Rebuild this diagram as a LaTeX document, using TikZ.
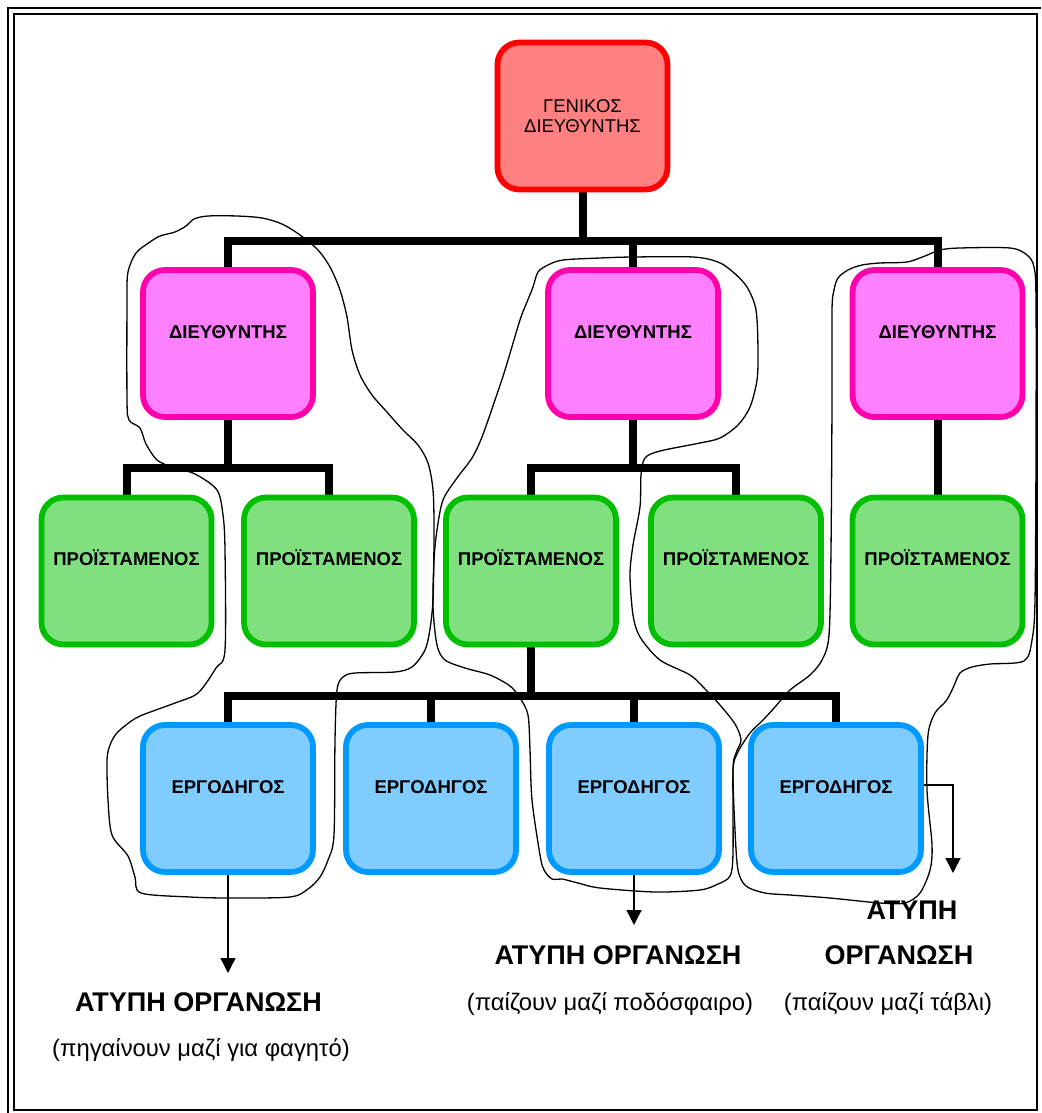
\documentclass[tikz,border=0pt]{standalone}
\usepackage{fontspec}
\setmainfont{Liberation Sans}
\usetikzlibrary{arrows.meta,backgrounds}

\definecolor{chiefline}{RGB}{255,0,0}
\definecolor{chieffill}{RGB}{255,128,128}
\definecolor{dirline}{RGB}{255,0,170}
\definecolor{dirfill}{RGB}{255,128,255}
\definecolor{supline}{RGB}{0,190,0}
\definecolor{supfill}{RGB}{128,224,128}
\definecolor{foreline}{RGB}{0,153,255}
\definecolor{forefill}{RGB}{128,204,255}

\begin{document}
\begin{tikzpicture}[x=1pt,y=-1pt,
  box/.style={draw, line width=5.8pt, rounded corners=22pt,
    minimum width=170pt, minimum height=147pt, inner sep=0pt, align=center,
    font=\fontsize{18.5}{20}\selectfont},
  lowerbox/.style={box, font=\fontsize{18.5}{20}\selectfont\bfseries,
    text height=13.5pt, text depth=24.5pt},
  chief/.style={box, draw=chiefline, fill=chieffill},
  director/.style={lowerbox, draw=dirline, fill=dirfill},
  supervisor/.style={lowerbox, draw=supline, fill=supfill},
  foreman/.style={lowerbox, draw=foreline, fill=forefill},
  tree/.style={line width=8pt, line join=miter},
  link/.style={line width=1.4pt, -{Triangle[width=15pt,length=15pt]}},
  group/.style={line width=1.3pt, line join=round},
  title/.style={font=\fontsize{27}{29}\selectfont\bfseries, inner sep=0pt},
  note/.style={font=\fontsize{23.8}{26}\selectfont, inner sep=0pt}]

\useasboundingbox (0,0) rectangle (1041,1113);

% double page frame
\draw[line width=2pt] (8,1113) -- (8,8) -- (1041,8);
\draw[line width=2pt] (14,14) rectangle (1037,1110);

% hierarchy boxes
\node[chief] (gm) at (582.5,116) {ΓΕΝΙΚΟΣ\\ΔΙΕΥΘΥΝΤΗΣ};

\node[director] (d1) at (228,343.5) {ΔΙΕΥΘΥΝΤΗΣ};
\node[director] (d2) at (633,343.5) {ΔΙΕΥΘΥΝΤΗΣ};
\node[director] (d3) at (937.5,343.5) {ΔΙΕΥΘΥΝΤΗΣ};

\node[supervisor] (p1) at (126.5,571) {ΠΡΟΪΣΤΑΜΕΝΟΣ};
\node[supervisor] (p2) at (329,571) {ΠΡΟΪΣΤΑΜΕΝΟΣ};
\node[supervisor] (p3) at (531,571) {ΠΡΟΪΣΤΑΜΕΝΟΣ};
\node[supervisor] (p4) at (736,571) {ΠΡΟΪΣΤΑΜΕΝΟΣ};
\node[supervisor] (p5) at (937.5,571) {ΠΡΟΪΣΤΑΜΕΝΟΣ};

\node[foreman] (e1) at (228,798.5) {ΕΡΓΟΔΗΓΟΣ};
\node[foreman] (e2) at (431,798.5) {ΕΡΓΟΔΗΓΟΣ};
\node[foreman] (e3) at (634,798.5) {ΕΡΓΟΔΗΓΟΣ};
\node[foreman] (e4) at (836,798.5) {ΕΡΓΟΔΗΓΟΣ};

% levels of the connecting bars
\coordinate (lv1) at (0,240.5);
\coordinate (lv2) at (0,468);
\coordinate (lv3) at (0,696);

% arrow ends
\coordinate (t1) at (228,973);
\coordinate (t2) at (634,925);
\coordinate (t3) at (953,873);

\begin{scope}[on background layer]
  \draw[tree] (gm.south) -- (gm.south |- lv1);
  \draw[tree] (d1.north) |- (d3.north |- lv1) -- (d3.north);
  \draw[tree] (d2.north) -- (d2.north |- lv1);

  \draw[tree] (d1.south) -- (d1.south |- lv2);
  \draw[tree] (p1.north) |- (p2.north |- lv2) -- (p2.north);
  \draw[tree] (d2.south) -- (d2.south |- lv2);
  \draw[tree] (p3.north) |- (p4.north |- lv2) -- (p4.north);
  \draw[tree] (d3.south) -- (p5.north);

  \draw[tree] (p3.south) -- (p3.south |- lv3);
  \draw[tree] (e1.north) |- (e4.north |- lv3) -- (e4.north);
  \draw[tree] (e2.north) -- (e2.north |- lv3);
  \draw[tree] (e3.north) -- (e3.north |- lv3);

  \draw[link] (e1.south) -- (t1);
  \draw[link] (e3.south) -- (t2);
  \draw[link] ([yshift=13.5pt]e4.east) -| (t3);
\end{scope}

% informal groups, outlined freehand
\draw[group] plot[smooth cycle, tension=0.5] coordinates {
  (136,253) (150,242) (160,236) (175,232) (186,226) (194,219) (208,216)
  (237,216) (262,218) (282,224) (300,235) (318,250) (330,267) (340,290)
  (347,317) (352,350) (360,375) (372,395) (386,411) (403,430) (418,445)
  (428,463) (433,490) (434,530) (433,600) (429,635) (424,652) (412,667)
  (395,672) (355,673) (343,677) (337,690) (335,740) (334,835) (328,860)
  (320,877) (308,889) (290,897) (230,898) (190,897) (141,893) (135,877)
  (128,856) (112,835) (108,800) (107,760) (110,745) (116,734) (126,725)
  (140,716) (175,703) (198,693) (216,668) (225,650) (225,550) (223,515)
  (217,490) (195,474) (172,467) (157,460) (146,444) (140,428) (129,420)
  (127,400) (127,300) (128,272)};

\draw[group] plot[smooth cycle, tension=0.5] coordinates {
  (538,272) (548,265) (563,260) (600,258) (633,257) (693,257) (718,262)
  (733,272) (747,287) (756,310) (758,350) (757,380) (750,407) (738,425)
  (720,438) (700,443) (660,451) (645,458) (641,475) (640,507) (633,545)
  (630,575) (633,615) (640,637) (660,660) (690,675) (706,690) (720,705)
  (735,724) (741,740) (736,753) (733,770) (733,853) (730,876) (718,884)
  (700,890) (655,892) (600,888) (578,883) (562,879) (552,879) (544,870)
  (540,855) (532,800) (530,750) (528,715) (520,698) (510,686) (490,675)
  (465,668) (445,660) (437,645) (433,607) (434,560) (437,530) (443,500)
  (457,478) (472,458) (482,437) (495,400) (505,370) (520,320) (527,302)
  (533,287)};

\draw[group] plot[smooth cycle, tension=0.5] coordinates {
  (838,278) (848,270) (862,265) (880,263) (907,262) (925,256) (940,250)
  (960,248) (1010,248) (1027,255) (1034,267) (1036,300) (1036,450)
  (1035,600) (1032,640) (1024,661) (990,664) (972,667) (960,673)
  (953,688) (946,701) (935,713) (928,735) (927,790) (932,845) (930,870)
  (920,893) (905,903) (880,903) (830,898) (790,895) (765,893) (746,886)
  (738,870) (735,830) (733,770) (738,752) (750,733) (763,720) (775,707)
  (790,690) (810,675) (822,660) (829,635) (831,550) (832,400) (832,310)
  (834,290)};

% captions of the informal groups
\node[title] (h1) at (198.5,1002) {ΑΤΥΠΗ ΟΡΓΑΝΩΣΗ};
\node[note] (s1) at (201,1050) {(πηγαίνουν μαζί για φαγητό)};
\node[title] (h2) at (618,955) {ΑΤΥΠΗ ΟΡΓΑΝΩΣΗ};
\node[note] (s2) at (610,1004) {(παίζουν μαζί ποδόσφαιρο)};
\node[title] (h3a) at (912,910) {ΑΤΥΠΗ};
\node[title] (h3b) at (899,955) {ΟΡΓΑΝΩΣΗ};
\node[note] (s3) at (888,1004) {(παίζουν μαζί τάβλι)};

\end{tikzpicture}
\end{document}
